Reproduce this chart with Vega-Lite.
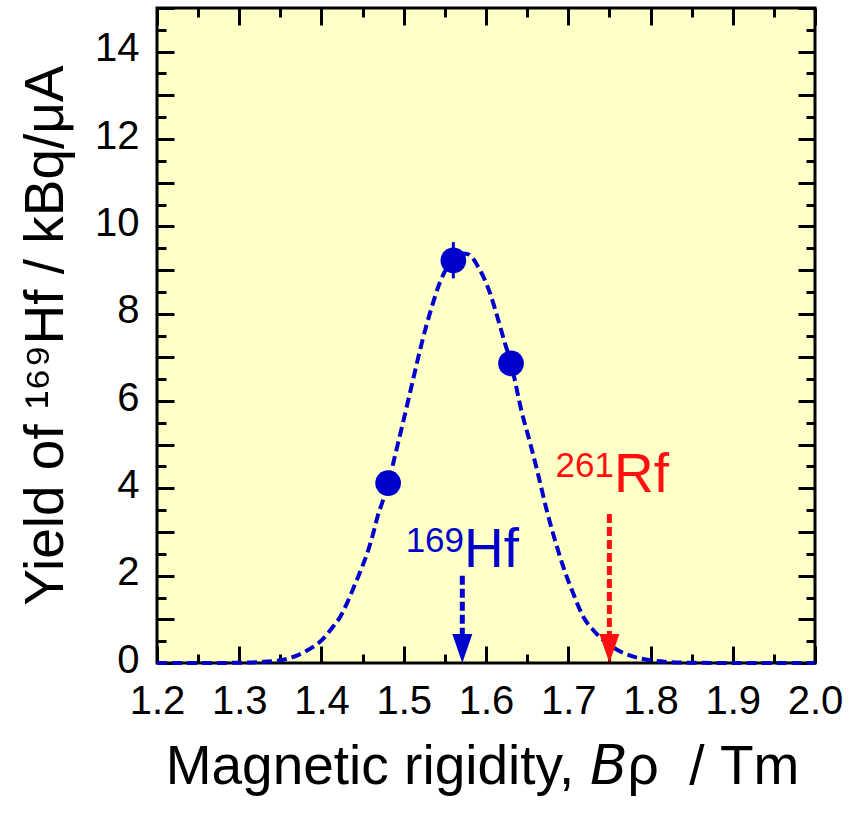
{
  "$schema": "https://vega.github.io/schema/vega-lite/v6.json",
  "width": 658,
  "height": 655,
  "autosize": {"type": "none"},
  "padding": {"left": 157, "top": 8, "right": 48, "bottom": 152},
  "background": "white",
  "config": {
    "view": {"fill": "#FFFFC8", "stroke": "black", "strokeWidth": 3},
    "font": "Liberation Sans",
    "axis": {"grid": false, "domain": false}
  },
  "datasets": {
    "fit": [
      {"rigidity": 1.2, "yield": 0},
      {"rigidity": 1.25, "yield": 0},
      {"rigidity": 1.3, "yield": 0.005},
      {"rigidity": 1.33, "yield": 0.03},
      {"rigidity": 1.352, "yield": 0.07},
      {"rigidity": 1.38, "yield": 0.26},
      {"rigidity": 1.4006, "yield": 0.53},
      {"rigidity": 1.4128, "yield": 0.8},
      {"rigidity": 1.4225, "yield": 1.05},
      {"rigidity": 1.431, "yield": 1.37},
      {"rigidity": 1.4407, "yield": 1.8},
      {"rigidity": 1.449, "yield": 2.18},
      {"rigidity": 1.4553, "yield": 2.5},
      {"rigidity": 1.4626, "yield": 2.95},
      {"rigidity": 1.4687, "yield": 3.39},
      {"rigidity": 1.4736, "yield": 3.66},
      {"rigidity": 1.481, "yield": 4.1},
      {"rigidity": 1.4894, "yield": 4.75},
      {"rigidity": 1.4975, "yield": 5.38},
      {"rigidity": 1.5112, "yield": 6.48},
      {"rigidity": 1.5218, "yield": 7.32},
      {"rigidity": 1.534, "yield": 8.15},
      {"rigidity": 1.544, "yield": 8.72},
      {"rigidity": 1.5603, "yield": 9.25},
      {"rigidity": 1.572, "yield": 9.38},
      {"rigidity": 1.5785, "yield": 9.36},
      {"rigidity": 1.5906, "yield": 9.07},
      {"rigidity": 1.6049, "yield": 8.47},
      {"rigidity": 1.615, "yield": 7.85},
      {"rigidity": 1.6231, "yield": 7.32},
      {"rigidity": 1.6304, "yield": 6.86},
      {"rigidity": 1.6434, "yield": 5.75},
      {"rigidity": 1.6535, "yield": 5.05},
      {"rigidity": 1.6636, "yield": 4.3},
      {"rigidity": 1.6738, "yield": 3.5},
      {"rigidity": 1.6839, "yield": 2.81},
      {"rigidity": 1.694, "yield": 2.2},
      {"rigidity": 1.7061, "yield": 1.59},
      {"rigidity": 1.7183, "yield": 1.06},
      {"rigidity": 1.7325, "yield": 0.71},
      {"rigidity": 1.7467, "yield": 0.46},
      {"rigidity": 1.7669, "yield": 0.23},
      {"rigidity": 1.7912, "yield": 0.09},
      {"rigidity": 1.82, "yield": 0.025},
      {"rigidity": 1.85, "yield": 0.005},
      {"rigidity": 1.9, "yield": 0},
      {"rigidity": 2.0, "yield": 0}
    ],
    "measured": [
      {"rigidity": 1.481, "yield": 4.12, "low": 3.95, "high": 4.29},
      {"rigidity": 1.5603, "yield": 9.22, "low": 8.81, "high": 9.64},
      {"rigidity": 1.6304, "yield": 6.86, "low": 6.64, "high": 7.08}
    ],
    "arrows": [
      {"nuclide": "169Hf", "rigidity": 1.5712, "from": 2.0, "to": 0.62, "tip": 0},
      {"nuclide": "261Rf", "rigidity": 1.75, "from": 3.41, "to": 0.62, "tip": 0}
    ],
    "labels": [
      {"nuclide": "169Hf", "rigidity": 1.5733, "yield": 2.205, "mass": "169", "symbol": "Hf"},
      {"nuclide": "261Rf", "rigidity": 1.7556, "yield": 3.916, "mass": "261", "symbol": "Rf"}
    ]
  },
  "layer": [
    {
      "data": {"name": "fit"},
      "mark": {"type": "line", "color": "#0000CC", "strokeWidth": 4, "strokeDash": [10, 5], "interpolate": "monotone", "clip": false},
      "encoding": {
        "x": {
          "field": "rigidity", "type": "quantitative",
          "scale": {"domain": [1.2, 2.0], "nice": false, "zero": false},
          "axis": {
            "orient": "bottom", "values": [1.2, 1.3, 1.4, 1.5, 1.6, 1.7, 1.8, 1.9, 2.0],
            "format": ".1f", "ticks": false, "domain": false, "labelFlush": false, "labelOverlap": false,
            "labelFont": "Liberation Sans", "labelFontSize": 40, "labelColor": "black", "labelPadding": 18,
            "title": "Magnetic rigidity, \ud835\ude09\u03c1 \u00a0/ Tm", "titleFont": "Liberation Sans", "titleFontSize": 55,
            "titleFontWeight": "normal", "titleColor": "black", "titleX": 325, "titleY": 120,
            "titleBaseline": "alphabetic", "titleAlign": "center", "titleAngle": 0
          }
        },
        "y": {
          "field": "yield", "type": "quantitative",
          "scale": {"domain": [0, 15], "nice": false, "zero": false},
          "axis": {
            "orient": "left", "values": [0, 2, 4, 6, 8, 10, 12, 14],
            "ticks": false, "domain": false, "labelFlush": false, "labelOverlap": false,
            "labelFont": "Liberation Sans", "labelFontSize": 40, "labelColor": "black", "labelPadding": 18, "labelOffset": -3,
            "title": "Yield of \u00b9\u2076\u2079Hf / kBq/\u03bcA", "titleFont": "Liberation Sans", "titleFontSize": 55,
            "titleFontWeight": "normal", "titleColor": "black", "titleX": -95, "titleY": 327,
            "titleBaseline": "alphabetic", "titleAlign": "center", "titleAngle": 270
          }
        }
      }
    },
    {
      "data": {"name": "arrows"},
      "mark": {"type": "rule", "strokeWidth": 5, "strokeDash": [9, 4]},
      "encoding": {
        "x": {
          "field": "rigidity", "type": "quantitative",
          "scale": {"domain": [1.2, 2.0], "nice": false, "zero": false},
          "axis": {
            "orient": "bottom", "labels": false, "domain": false, "title": null, "ticks": true,
            "values": [1.2, 1.3, 1.4, 1.5, 1.6, 1.7, 1.8, 1.9, 2.0],
            "tickColor": "black", "tickWidth": 3, "tickSize": -17
          }
        },
        "y": {
          "field": "from", "type": "quantitative",
          "scale": {"domain": [0, 15], "nice": false, "zero": false},
          "axis": {
            "orient": "left", "labels": false, "domain": false, "title": null, "ticks": true,
            "values": [0, 1, 2, 3, 4, 5, 6, 7, 8, 9, 10, 11, 12, 13, 14, 15],
            "tickColor": "black", "tickWidth": 3, "tickSize": -17
          }
        },
        "y2": {"field": "to"},
        "color": {"field": "nuclide", "type": "nominal", "scale": {"domain": ["169Hf", "261Rf"], "range": ["#0000CC", "#FF1010"]}, "legend": null}
      }
    },
    {
      "data": {"name": "arrows"},
      "mark": {"type": "point", "shape": "M-0.69,-2L0.69,-2L0,0Z", "size": 841, "filled": true, "opacity": 1, "strokeWidth": 0, "clip": false},
      "encoding": {
        "x": {
          "field": "rigidity", "type": "quantitative",
          "scale": {"domain": [1.2, 2.0], "nice": false, "zero": false},
          "axis": {
            "orient": "top", "labels": false, "domain": false, "title": null, "ticks": true,
            "values": [1.2, 1.3, 1.4, 1.5, 1.6, 1.7, 1.8, 1.9, 2.0],
            "tickColor": "black", "tickWidth": 3, "tickSize": -17
          }
        },
        "y": {
          "field": "tip", "type": "quantitative",
          "scale": {"domain": [0, 15], "nice": false, "zero": false},
          "axis": {
            "orient": "right", "labels": false, "domain": false, "title": null, "ticks": true,
            "values": [0, 1, 2, 3, 4, 5, 6, 7, 8, 9, 10, 11, 12, 13, 14, 15],
            "tickColor": "black", "tickWidth": 3, "tickSize": -17
          }
        },
        "color": {"field": "nuclide", "type": "nominal", "scale": {"domain": ["169Hf", "261Rf"], "range": ["#0000CC", "#FF1010"]}, "legend": null}
      }
    },
    {
      "data": {"name": "measured"},
      "mark": {"type": "rule", "color": "#0000CC", "strokeWidth": 3},
      "encoding": {
        "x": {
          "field": "rigidity", "type": "quantitative",
          "scale": {"domain": [1.2, 2.0], "nice": false, "zero": false},
          "axis": {
            "orient": "bottom", "labels": false, "domain": false, "title": null, "ticks": true,
            "values": [1.25, 1.35, 1.45, 1.55, 1.65, 1.75, 1.85, 1.95],
            "tickColor": "black", "tickWidth": 3, "tickSize": -9
          }
        },
        "y": {
          "field": "low", "type": "quantitative",
          "scale": {"domain": [0, 15], "nice": false, "zero": false},
          "axis": {
            "orient": "left", "labels": false, "domain": false, "title": null, "ticks": true,
            "values": [0.5, 1.5, 2.5, 3.5, 4.5, 5.5, 6.5, 7.5, 8.5, 9.5, 10.5, 11.5, 12.5, 13.5, 14.5],
            "tickColor": "black", "tickWidth": 3, "tickSize": -9
          }
        },
        "y2": {"field": "high"}
      }
    },
    {
      "data": {"name": "measured"},
      "mark": {"type": "circle", "color": "#0000CC", "size": 660, "opacity": 1},
      "encoding": {
        "x": {
          "field": "rigidity", "type": "quantitative",
          "scale": {"domain": [1.2, 2.0], "nice": false, "zero": false},
          "axis": {
            "orient": "top", "labels": false, "domain": false, "title": null, "ticks": true,
            "values": [1.25, 1.35, 1.45, 1.55, 1.65, 1.75, 1.85, 1.95],
            "tickColor": "black", "tickWidth": 3, "tickSize": -9
          }
        },
        "y": {
          "field": "yield", "type": "quantitative",
          "scale": {"domain": [0, 15], "nice": false, "zero": false},
          "axis": {
            "orient": "right", "labels": false, "domain": false, "title": null, "ticks": true,
            "values": [0.5, 1.5, 2.5, 3.5, 4.5, 5.5, 6.5, 7.5, 8.5, 9.5, 10.5, 11.5, 12.5, 13.5, 14.5],
            "tickColor": "black", "tickWidth": 3, "tickSize": -9
          }
        }
      }
    },
    {
      "data": {"name": "labels"},
      "mark": {"type": "text", "align": "right", "baseline": "alphabetic", "fontSize": 35, "dy": -15, "font": "Liberation Sans"},
      "encoding": {
        "x": {"field": "rigidity", "type": "quantitative", "axis": null},
        "y": {"field": "yield", "type": "quantitative", "axis": null},
        "text": {"field": "mass"},
        "color": {"field": "nuclide", "type": "nominal", "scale": {"domain": ["169Hf", "261Rf"], "range": ["#0000CC", "#FF1010"]}, "legend": null}
      }
    },
    {
      "data": {"name": "labels"},
      "mark": {"type": "text", "align": "left", "baseline": "alphabetic", "fontSize": 55, "font": "Liberation Sans"},
      "encoding": {
        "x": {"field": "rigidity", "type": "quantitative", "axis": null},
        "y": {"field": "yield", "type": "quantitative", "axis": null},
        "text": {"field": "symbol"},
        "color": {"field": "nuclide", "type": "nominal", "scale": {"domain": ["169Hf", "261Rf"], "range": ["#0000CC", "#FF1010"]}, "legend": null}
      }
    }
  ],
  "resolve": {"axis": {"x": "independent", "y": "independent"}}
}
